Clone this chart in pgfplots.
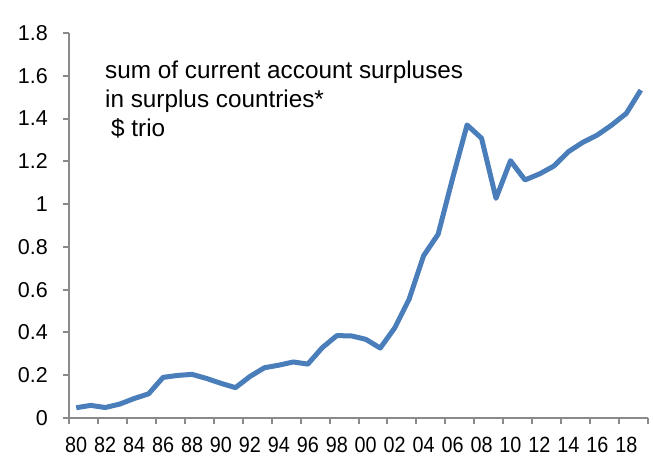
\documentclass[border=0pt]{standalone}
\usepackage{fontspec}
\setmainfont{Liberation Sans}
\newfontfamily\xlabfont[FakeStretch=0.9]{Liberation Sans}
\usepackage{pgfplots}
\pgfplotsset{compat=1.18}
\definecolor{axisgray}{HTML}{8A8A8A}
\definecolor{lineblue}{HTML}{4A7EBB}
\begin{document}
\begin{tikzpicture}[x=1pt,y=1pt]
\useasboundingbox (0,0) rectangle (653,459);
\begin{axis}[
  at={(69pt,41pt)}, anchor=south west,
  scale only axis, width=579pt, height=385pt,
  xmin=-0.5, xmax=39.5, ymin=0, ymax=1.8,
  axis lines*=left,
  axis line style={draw=axisgray, line width=2pt},
  tick align=outside, major tick length=6pt,
  /pgf/number format/assume math mode=true,
  xtick={0,2,...,38},
  xticklabels={80,82,84,86,88,90,92,94,96,98,00,02,04,06,08,10,12,14,16,18},
  xtick style={draw=none},
  extra x ticks={-0.5,1.5,...,39.5},
  extra x tick labels={},
  extra x tick style={xtick style={draw=axisgray, line width=2pt}},
  ytick={0,0.2,...,1.8},
  yticklabels={0,0.2,0.4,0.6,0.8,1,1.2,1.4,1.6,1.8},
  ytick style={draw=axisgray, line width=2pt},
  xticklabel style={font=\xlabfont\fontsize{22}{22}\selectfont, inner sep=0pt, yshift=-13pt},
  yticklabel style={font=\fontsize{21.5}{21.5}\selectfont, inner sep=0pt, xshift=-15pt},
]
\addplot[lineblue, line width=5pt, line join=round] coordinates {
(0,0.048) (1,0.059) (2,0.049) (3,0.065) (4,0.091) (5,0.113)
(6,0.190) (7,0.199) (8,0.204) (9,0.185) (10,0.162) (11,0.142)
(12,0.194) (13,0.235) (14,0.247) (15,0.262) (16,0.252) (17,0.329)
(18,0.385) (19,0.384) (20,0.368) (21,0.327) (22,0.421) (23,0.556)
(24,0.759) (25,0.859) (26,1.120) (27,1.370) (28,1.308) (29,1.027)
(30,1.203) (31,1.113) (32,1.141) (33,1.178) (34,1.245) (35,1.289)
(36,1.323) (37,1.370) (38,1.424) (39,1.533)
};
\end{axis}
\node[anchor=base west, font=\fontsize{24.3}{24.3}\selectfont, inner sep=0pt] at (105,381) {sum of current account surpluses};
\node[anchor=base west, font=\fontsize{24.3}{24.3}\selectfont, inner sep=0pt] at (105,352) {in surplus countries*};
\node[anchor=base west, font=\fontsize{24.3}{24.3}\selectfont, inner sep=0pt] at (111,323) {\$ trio};
\end{tikzpicture}
\end{document}
